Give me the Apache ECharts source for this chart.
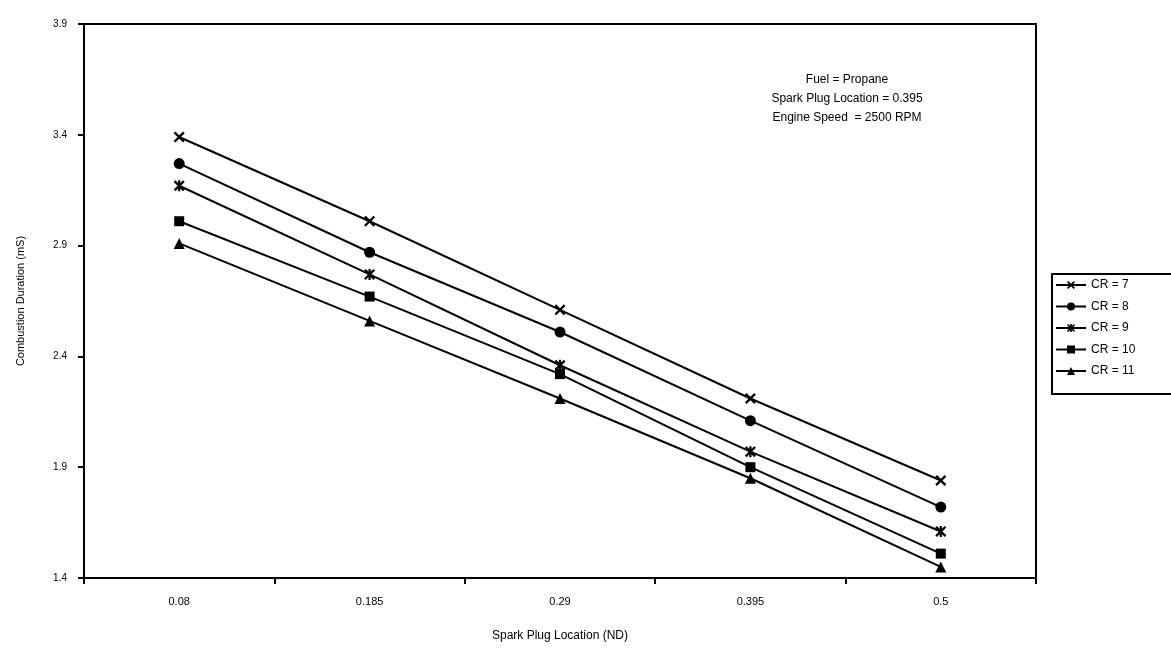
<!DOCTYPE html>
<html>
<head>
<meta charset="utf-8">
<script src="https://cdn.jsdelivr.net/npm/echarts@6/dist/echarts.min.js"></script>
<style>
  html, body { margin: 0; padding: 0; background: #fff; }
  #chart { width: 1171px; height: 650px; }
</style>
</head>
<body>
<div id="chart"></div>
<script>
// Spark plug location (non-dimensional) categories
const locations = ['0.08', '0.185', '0.29', '0.395', '0.5'];

// Combustion duration (ms) for each compression ratio
const cr7  = [3.39, 3.01, 2.61, 2.21, 1.84];
const cr8  = [3.27, 2.87, 2.51, 2.11, 1.72];
const cr9  = [3.17, 2.77, 2.36, 1.97, 1.61];
const cr10 = [3.01, 2.67, 2.32, 1.90, 1.51];
const cr11 = [2.91, 2.56, 2.21, 1.85, 1.45];

const seriesNames = ['CR = 7', 'CR = 8', 'CR = 9', 'CR = 10', 'CR = 11'];
const yTicks = [1.4, 1.9, 2.4, 2.9, 3.4, 3.9];

const noteLines = ['Fuel = Propane', 'Spark Plug Location = 0.395', 'Engine Speed  = 2500 RPM'];

// Marker shapes
const xMark = 'path://M0,1.5 L1.5,0 L5,3.5 L8.5,0 L10,1.5 L6.5,5 L10,8.5 L8.5,10 L5,6.5 L1.5,10 L0,8.5 L3.5,5 Z';
const starMark = 'path://M0,1.5 L1.5,0 L5,3.5 L8.5,0 L10,1.5 L6.5,5 L10,8.5 L8.5,10 L5,6.5 L1.5,10 L0,8.5 L3.5,5 Z M4,0 L6,0 L6,10 L4,10 Z';

const symbols = [xMark, 'circle', starMark, 'rect', 'triangle'];
const sizes = [11, 11, 11, 10, 11];
const dataSets = [cr7, cr8, cr9, cr10, cr11];

const FONT = '"Liberation Sans", Arial, sans-serif';

const chart = echarts.init(document.getElementById('chart'), null, { renderer: 'canvas' });

chart.setOption({
  animation: false,
  backgroundColor: '#fff',
  grid: {
    left: 84, right: 135, top: 24, bottom: 72,
    show: true, borderColor: '#000', borderWidth: 2, backgroundColor: 'transparent'
  },
  xAxis: {
    type: 'category',
    data: locations,
    boundaryGap: true,
    name: 'Spark Plug Location (ND)',
    nameLocation: 'middle',
    nameGap: 52,
    nameTextStyle: { fontFamily: FONT, fontSize: 12, color: '#000' },
    axisLine: { lineStyle: { color: '#000', width: 2 } },
    axisTick: { show: true, inside: false, length: 6, lineStyle: { color: '#000', width: 2 } },
    axisLabel: { fontFamily: FONT, fontSize: 11, color: '#000', margin: 18 },
    splitLine: { show: false }
  },
  yAxis: {
    type: 'value',
    min: yTicks[0],
    max: yTicks[yTicks.length - 1],
    interval: 0.5,
    name: 'Combustion Duration (mS)',
    nameLocation: 'middle',
    nameGap: 58,
    nameTextStyle: { fontFamily: FONT, fontSize: 11, color: '#000' },
    axisLine: { show: true, lineStyle: { color: '#000', width: 2 } },
    axisTick: { show: true, inside: false, length: 6, lineStyle: { color: '#000', width: 2 } },
    axisLabel: { fontFamily: FONT, fontSize: 10, color: '#000', margin: 17,
      formatter: v => v.toFixed(1) },
    splitLine: { show: false }
  },
  legend: {
    orient: 'vertical',
    left: 1052,
    top: 274,
    data: seriesNames,
    itemWidth: 30,
    itemHeight: 10,
    itemGap: 9.5,
    padding: [5, 40, 17, 3],
    borderColor: '#000',
    borderWidth: 2,
    backgroundColor: '#fff',
    textStyle: { fontFamily: FONT, fontSize: 12, color: '#000' }
  },
  graphic: [{
    type: 'text',
    x: 847,
    y: 70,
    style: {
      text: noteLines.join('\n'),
      x: 0, y: 0,
      textAlign: 'center',
      fontFamily: FONT,
      fontSize: 12,
      lineHeight: 19,
      fill: '#000'
    }
  }],
  series: dataSets.map((d, i) => ({
    name: seriesNames[i],
    type: 'line',
    data: d,
    symbol: symbols[i],
    symbolSize: sizes[i],
    showAllSymbol: true,
    lineStyle: { color: '#000', width: 2 },
    itemStyle: { color: '#000', borderWidth: 0 },
    emphasis: { disabled: true }
  }))
});
</script>
</body>
</html>
